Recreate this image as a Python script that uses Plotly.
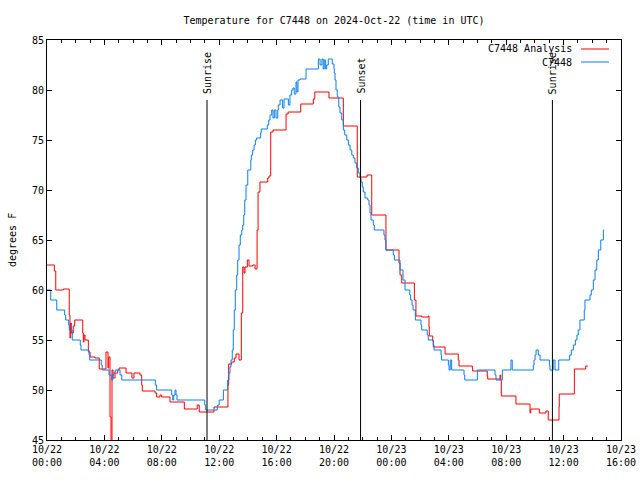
import pandas as pd
import plotly.graph_objects as go

# ---- data (hours since 2024-10-22 00:00 UTC, temperature in F) ----
obs_hours = [0.0, 0.26, 0.68, 1.23, 1.30, 1.51, 1.55, 1.76, 2.32, 2.37, 2.93, 2.98, 3.78, 3.85,
             4.32, 4.51, 4.58, 4.67, 4.76, 5.09, 5.21, 7.55, 7.64, 8.69, 8.76, 8.83, 8.92, 8.99,
             9.06, 10.99, 11.06, 11.87, 12.0, 12.29, 12.59, 12.68, 12.75, 12.82, 12.91, 12.98,
             13.05, 13.12, 13.22, 13.29, 13.38, 13.47, 13.57, 13.64, 13.71, 13.78, 13.87, 13.99,
             14.20, 14.24, 14.33, 14.43, 14.52, 14.61, 14.89, 14.93, 15.35, 15.45, 15.54, 15.66,
             15.75, 15.84, 15.96, 16.08, 16.12, 16.24, 16.42, 16.52, 16.82, 16.93, 17.05, 17.14,
             17.23, 17.35, 17.42, 17.49, 17.63, 18.05, 18.91, 19.03, 19.16, 19.25, 19.32, 19.42,
             19.49, 19.60, 19.88, 20.0, 20.02, 20.07, 20.14, 20.23, 20.33, 20.42, 20.54, 20.65,
             20.75, 20.89, 21.0, 21.12, 21.24, 21.35, 21.46, 21.58, 21.69, 21.81, 21.88, 21.97,
             22.04, 22.16, 22.35, 22.44, 22.51, 22.58, 22.74, 22.81, 23.48, 23.55, 23.62, 24.13,
             24.21, 24.60, 24.81, 24.95, 25.28, 25.34, 25.44, 25.51, 25.67, 26.06, 26.11, 26.50,
             26.57, 26.92, 26.97, 27.46, 27.50, 27.97, 28.02, 28.10, 28.20, 29.06, 29.11, 29.99,
             31.22, 31.29, 31.73, 32.33, 32.42, 33.89, 33.94, 34.01, 34.08, 34.24, 34.36, 35.01,
             35.05, 35.28, 35.40, 35.66, 36.42, 36.54, 36.68, 36.82, 36.93, 37.02, 37.14, 37.44,
             37.49, 37.84, 37.93, 38.07, 38.19, 38.31, 38.42, 38.59, 38.77, 38.82]
obs_temps = [60.0, 59.0, 58.0, 57.5, 57.0, 56.5, 56.0, 55.0, 54.5, 54.0, 53.5, 53.0, 52.5, 52.0,
             51.5, 51.0, 51.5, 51.8, 52.0, 51.5, 51.0, 50.5, 50.0, 49.5, 49.0, 49.5, 50.0, 49.5,
             49.0, 48.5, 48.0, 48.5, 49.0, 50.0, 51.0, 51.7, 52.3, 53.0, 54.0, 56.0,
             58.0, 60.0, 61.5, 63.0, 64.5, 65.5, 66.0, 66.5, 67.5, 69.0, 70.5, 72.0,
             73.0, 73.5, 74.0, 74.5, 75.0, 75.2, 75.7, 76.1, 76.5, 77.0, 77.5, 78.0,
             77.2, 78.0, 77.2, 78.0, 78.5, 79.0, 78.2, 79.1, 78.5, 79.5, 80.0, 80.2,
             79.6, 80.8, 79.8, 81.0, 81.1, 82.1, 83.1, 82.5, 83.1, 82.1, 83.0, 82.1,
             82.5, 83.1, 82.6, 82.1, 81.7, 81.0, 80.0, 79.3, 78.3, 77.7, 77.0, 76.0,
             75.5, 75.0, 74.5, 74.0, 73.5, 73.2, 72.7, 72.2, 71.7, 71.2, 70.8, 70.3,
             69.8, 69.2, 69.0, 68.5, 67.7, 67.0, 66.5, 66.0, 65.5, 65.0, 64.0, 63.5,
             63.0, 62.0, 61.0, 60.0, 59.5, 59.0, 58.5, 58.0, 57.0, 56.5, 56.0, 55.5,
             55.0, 54.5, 54.0, 53.5, 53.0, 52.5, 52.0, 53.0, 52.0, 51.5, 51.0, 52.0,
             51.5, 51.0, 52.0, 53.0, 52.0, 52.5, 53.0, 53.5, 54.0, 53.5, 53.0, 52.5,
             52.0, 53.0, 52.0, 53.0, 53.5, 54.0, 54.5, 55.0, 55.5, 56.0, 57.0, 58.0,
             59.0, 59.5, 60.0, 61.0, 62.0, 63.0, 64.0, 65.0, 66.0, 66.0]

ana_hours = [0.0, 0.51, 0.61, 1.14, 1.55, 1.60, 1.65, 1.69, 1.83, 1.93, 2.49, 2.53, 2.58, 2.65,
             2.88, 3.0, 3.34, 3.64, 4.11, 4.25, 4.30, 4.39, 4.46, 4.53, 4.60, 4.74, 4.93, 5.02,
             5.51, 5.92, 6.06, 6.48, 6.60, 6.64, 7.53, 7.64, 7.87, 7.99, 8.57, 9.57, 10.47,
             10.61, 11.64, 12.61, 12.66, 12.87, 13.05, 13.17, 13.38, 13.54, 13.64, 13.73, 13.80,
             13.96, 14.08, 14.33, 14.50, 14.64, 14.71, 14.84, 15.38, 15.47, 15.59, 15.75, 16.66,
             16.80, 17.68, 18.56, 18.66, 19.65, 20.65, 21.62, 22.30, 22.63, 23.62, 24.53, 24.60,
             24.72, 25.60, 25.71, 26.11, 26.57, 26.62, 26.64, 26.88, 26.92, 27.74, 28.66, 28.71,
             29.64, 29.66, 30.68, 30.71, 31.57, 31.62, 31.66, 32.68, 33.66, 33.71, 34.31, 34.77,
             34.93, 35.68, 35.70, 36.75, 37.54, 37.68]
ana_temps = [62.5, 61.9, 60.0, 60.1, 57.5, 55.2, 56.7, 55.7, 56.4, 57.0, 55.7, 54.8, 55.5, 55.0,
             53.8, 53.3, 53.2, 52.1, 53.8, 52.2, 53.3, 47.3, 44.5, 52.0, 51.2, 51.7, 52.0, 52.2,
             51.7, 51.2, 51.7, 51.5, 50.5, 49.9, 49.7, 49.3, 49.5, 49.3, 48.8, 48.1, 48.5,
             47.8, 48.3, 50.5, 52.6, 52.8, 53.2, 53.6, 53.0, 57.7, 62.3, 61.7, 62.3,
             63.0, 62.4, 62.5, 62.1, 66.0, 69.8, 70.8, 71.2, 71.4, 75.8, 76.0, 77.6,
             77.8, 78.6, 79.1, 79.8, 79.2, 76.4, 71.3, 71.5, 67.5, 64.0, 62.7, 61.5,
             60.7, 59.0, 57.4, 57.3, 57.4, 56.3, 55.4, 54.9, 54.3, 53.6, 53.0, 52.4,
             52.2, 51.9, 51.4, 51.1, 51.5, 51.0, 49.4, 48.6, 47.7, 48.1, 47.7, 47.9,
             47.0, 48.3, 49.6, 52.1, 52.4, 52.4]

event_hours = [11.15, 21.85, 35.22]
event_labels = ["Sunrise", "Sunset", "Sunrise"]

tick_hours = [0, 4, 8, 12, 16, 20, 24, 28, 32, 36, 40]
tick_text = ["10/22<br>00:00", "10/22<br>04:00", "10/22<br>08:00", "10/22<br>12:00",
             "10/22<br>16:00", "10/22<br>20:00", "10/23<br>00:00", "10/23<br>04:00",
             "10/23<br>08:00", "10/23<br>12:00", "10/23<br>16:00"]

series_names = ["C7448 Analysis", "C7448"]
series_colors = ["#ff0000", "#0a7ff0"]

base = pd.Timestamp("2024-10-22 00:00")


def to_time(hours):
    return [base + pd.Timedelta(hours=h) for h in hours]


FONT = "DejaVu Sans Mono"

fig = go.Figure()
fig.add_trace(go.Scatter(x=to_time(ana_hours), y=ana_temps, mode="lines",
                         line=dict(color=series_colors[0], width=1, shape="hv"),
                         name=series_names[0], showlegend=False))
fig.add_trace(go.Scatter(x=to_time(obs_hours), y=obs_temps, mode="lines",
                         line=dict(color=series_colors[1], width=1, shape="hv"),
                         name=series_names[1], showlegend=False))

for h, lab in zip(event_hours, event_labels):
    t = base + pd.Timedelta(hours=h)
    fig.add_shape(type="line", xref="x", yref="y", x0=t, x1=t, y0=45, y1=79,
                  line=dict(color="black", width=1))
    fig.add_annotation(x=t, y=79, xref="x", yref="y", text=lab, textangle=-90,
                       showarrow=False, xanchor="center", yanchor="bottom", yshift=4,
                       font=dict(family=FONT, size=10, color="black"))

# manual gnuplot-style key (text then line sample)
for i, (nm, col) in enumerate(zip(series_names, series_colors)):
    yp = 1 - (9 + 13 * i) / 400
    fig.add_annotation(x=(574 - 47) / 574, y=yp, xref="paper", yref="paper", text=nm,
                       showarrow=False, xanchor="right", yanchor="middle",
                       font=dict(family=FONT, size=10, color="black"))
    fig.add_shape(type="line", xref="paper", yref="paper",
                  x0=(581 - 47) / 574, x1=(609 - 47) / 574, y0=yp, y1=yp,
                  line=dict(color=col, width=1))

# y-axis title placed like gnuplot's
fig.add_annotation(x=0, y=0.5, xref="paper", yref="paper", text="degrees F", textangle=-90,
                   showarrow=False, xanchor="center", yanchor="middle", xshift=-35,
                   font=dict(family=FONT, size=10, color="black"))

fig.update_layout(
    width=640, height=480,
    margin=dict(l=47, r=19, t=40, b=40, autoexpand=False),
    paper_bgcolor="white", plot_bgcolor="white",
    font=dict(family=FONT, size=10, color="black"),
    title=dict(text="Temperature for C7448 on 2024-Oct-22 (time in UTC)",
               x=334 / 640, xanchor="center", y=1 - 20 / 480, yanchor="middle",
               font=dict(family=FONT, size=10, color="black")),
    showlegend=False,
)
fig.update_xaxes(
    range=[base, base + pd.Timedelta(hours=40)],
    tickmode="array", tickvals=to_time(tick_hours), ticktext=tick_text,
    ticks="inside", ticklen=5, tickcolor="black", tickwidth=1,
    minor=dict(ticks="inside", ticklen=3, dtick=3600000, tickcolor="black", showgrid=False),
    showline=True, linecolor="black", linewidth=1, mirror="allticks",
    showgrid=False, zeroline=False, automargin=False,
    tickfont=dict(family=FONT, size=10, color="black"),
)
fig.update_yaxes(
    range=[45, 85], dtick=5, tick0=45,
    ticks="inside", ticklen=5, tickcolor="black", tickwidth=1,
    showline=True, linecolor="black", linewidth=1, mirror="allticks",
    showgrid=False, zeroline=False, automargin=False,
    tickfont=dict(family=FONT, size=10, color="black"),
)

fig.write_html("out.html", config={"displayModeBar": False},
               post_script="document.body.style.margin='0';document.body.style.padding='0';")
